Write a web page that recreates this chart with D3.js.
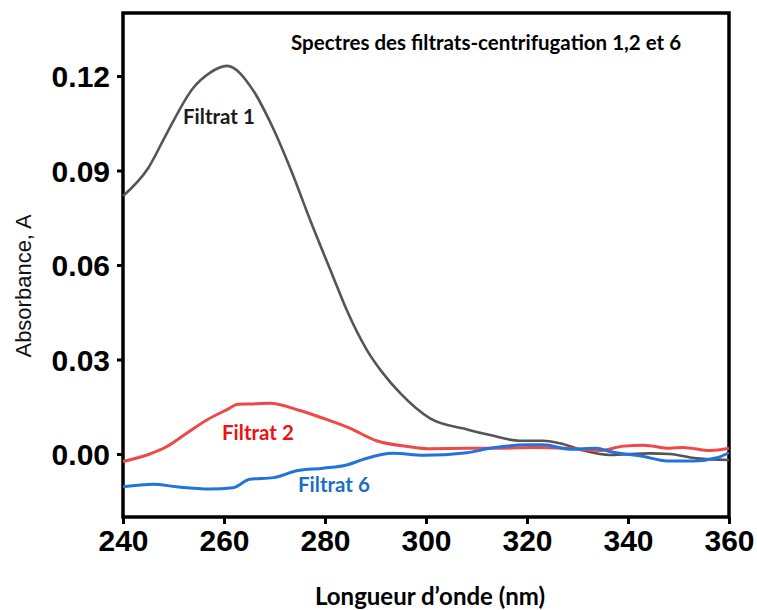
<!DOCTYPE html>
<html>
<head>
<meta charset="utf-8">
<script src="https://cdn.jsdelivr.net/npm/d3@7"></script>
<style>
  body { margin: 0; background: #fff; }
  #chart { width: 757px; height: 610px; }
  .tick text { font-family: "Liberation Sans", Arial, sans-serif; font-weight: bold; font-size: 30px; fill: #000; }
  .lbl { font-family: Lato, "Open Sans", sans-serif; font-weight: bold; }
</style>
</head>
<body>
<div id="chart"></div>
<script>
// wavelength (nm) / absorbance
const wl1 = [240, 245, 248.7, 253.9, 257.2, 260.6, 265.7, 269.7, 273.5, 277, 281.6, 284.3, 288.3, 291.5, 294.9, 300.8, 308.1, 312.7, 318.6, 323.2, 326.5, 331.2, 336.4, 344.4, 348.3, 353.6, 360];
const abs1 = [0.0819, 0.0908, 0.1019, 0.1162, 0.1210, 0.1232, 0.1156, 0.1035, 0.0892, 0.0745, 0.0563, 0.0457, 0.0330, 0.0256, 0.0193, 0.0113, 0.0078, 0.0060, 0.0042, 0.0042, 0.0034, 0.0011, -0.0003, 0.0002, 0.0000, -0.0014, -0.0019];

const wl2 = [240, 245.3, 248.6, 252.6, 256.6, 260.5, 262.8, 265.1, 269.1, 275, 279.7, 284.9, 290.2, 296.8, 300.8, 308.1, 314.7, 321.3, 327.9, 334.5, 339.1, 343.1, 348.3, 350.9, 356.3, 360];
const abs2 = [-0.0024, 0.0000, 0.0023, 0.0066, 0.0108, 0.0140, 0.0158, 0.0159, 0.0161, 0.0138, 0.0113, 0.0082, 0.0042, 0.0023, 0.0017, 0.0018, 0.0018, 0.0021, 0.0018, 0.0011, 0.0025, 0.0028, 0.0018, 0.0021, 0.0011, 0.0018];

const wl6 = [240, 246, 250.6, 257.2, 261.8, 265.1, 269.8, 274.4, 279.7, 284.3, 287.6, 293.5, 299.5, 308.1, 312.7, 319.9, 323.2, 328.5, 333.8, 336.4, 343.1, 347.7, 353, 357.6, 360];
const abs6 = [-0.0104, -0.0096, -0.0104, -0.0111, -0.0107, -0.0080, -0.0075, -0.0053, -0.0045, -0.0035, -0.0017, 0.0002, -0.0004, 0.0004, 0.0018, 0.0029, 0.0029, 0.0015, 0.0018, 0.0008, -0.0008, -0.0022, -0.0022, -0.0012, 0.0004];

const xTicks = [240, 260, 280, 300, 320, 340, 360];
const yTicks = [0, 0.03, 0.06, 0.09, 0.12];

const width = 757, height = 610;
const margin = { top: 13, left: 123, right: 28, bottom: 93 };

const svg = d3.select("#chart").append("svg")
    .attr("width", width)
    .attr("height", height);

const xScale = d3.scaleLinear()
    .domain([240, 360])
    .range([margin.left, width - margin.right]);

const yScale = d3.scaleLinear()
    .domain([-0.02, 0.14])
    .range([height - margin.bottom, margin.top]);

/*
AXES
*/
const xAxis = svg.append("g")
    .attr("transform", `translate(0,${height - margin.bottom})`)
    .call(d3.axisBottom(xScale).tickValues(xTicks).tickSize(7).tickPadding(6).tickFormat(d3.format("d")));

const yAxis = svg.append("g")
    .attr("transform", `translate(${margin.left},0)`)
    .call(d3.axisLeft(yScale).tickValues(yTicks).tickSize(6).tickPadding(7).tickFormat(d3.format(".2f")));

[xAxis, yAxis].forEach(function (g) {
    g.select(".domain").remove();
    g.selectAll(".tick line").attr("stroke", "#000").attr("stroke-width", 3);
});
yAxis.selectAll(".tick text").attr("dy", "0.36em");

// frame
svg.append("rect")
    .attr("x", margin.left)
    .attr("y", margin.top)
    .attr("width", width - margin.left - margin.right)
    .attr("height", height - margin.top - margin.bottom)
    .attr("fill", "none")
    .attr("stroke", "#000")
    .attr("stroke-width", 3.5);

/*
LINES
*/
const line = d3.line()
    .x(d => xScale(d[0]))
    .y(d => yScale(d[1]))
    .curve(d3.curveMonotoneX);

function plot_line(wl, abs, stroke, stroke_width) {
    svg.append("path")
        .datum(d3.zip(wl, abs))
        .attr("d", line)
        .attr("fill", "none")
        .attr("stroke", stroke)
        .attr("stroke-width", stroke_width);
}

plot_line(wl1, abs1, "#555555", 2.6);
plot_line(wl2, abs2, "#ee4848", 3);
plot_line(wl6, abs6, "#2274dc", 3);

/*
LABELS
*/
function label(text, x, y, size, fill) {
    return svg.append("text")
        .attr("class", "lbl")
        .attr("x", x)
        .attr("y", y)
        .attr("font-size", size)
        .attr("fill", fill)
        .text(text);
}

label("Filtrat 1", 183, 124, 20.5, "#1a1a1a");
label("Filtrat 2", 222, 440, 20.5, "#ee1111");
label("Filtrat 6", 298, 492, 20.5, "#1a6fc4");
label("Spectres des filtrats-centrifugation 1,2 et 6", 291, 50, 20.5, "#000");

label("Longueur d\u2019onde (nm)", 430, 605, 24, "#000")
    .attr("text-anchor", "middle");

svg.append("text")
    .attr("transform", "rotate(-90)")
    .attr("x", -286)
    .attr("y", 31)
    .attr("text-anchor", "middle")
    .attr("font-family", "'Liberation Sans', Arial, sans-serif")
    .attr("font-size", 22)
    .attr("fill", "#111")
    .text("Absorbance, A");
</script>
</body>
</html>
